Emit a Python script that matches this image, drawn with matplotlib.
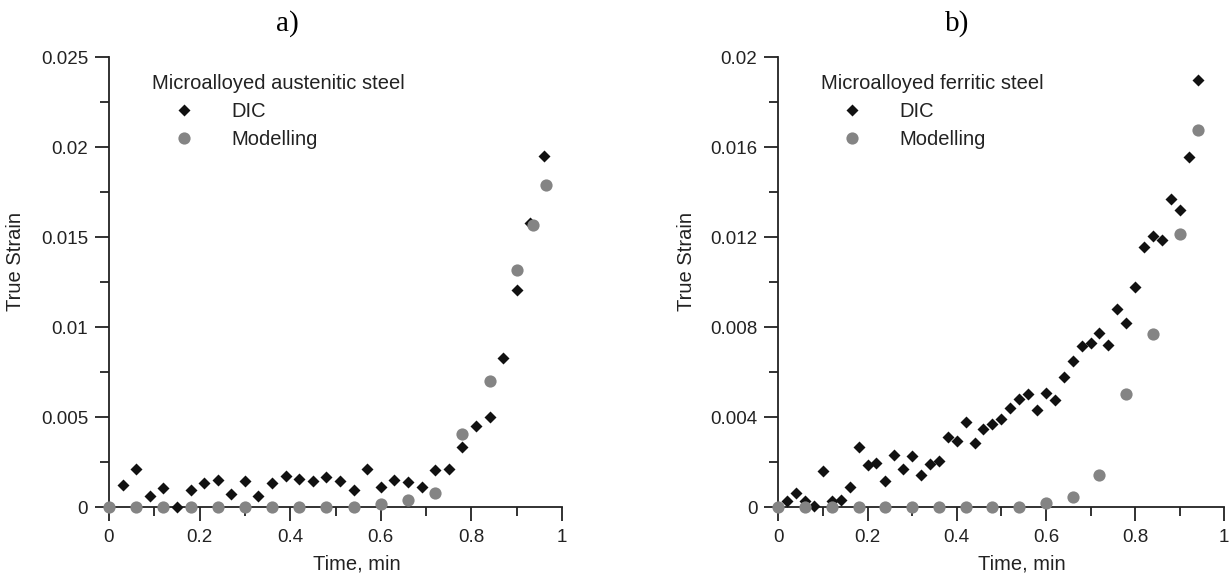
import numpy as np
import matplotlib.pyplot as plt
from matplotlib.ticker import MultipleLocator, FormatStrFormatter

plt.rcParams['font.family'] = ['Liberation Sans', 'DejaVu Sans']

# a) microalloyed austenitic steel
a_dic_t = [0.03, 0.06, 0.09, 0.12, 0.15, 0.18, 0.21, 0.24, 0.27, 0.30, 0.33,
           0.36, 0.39, 0.42, 0.45, 0.48, 0.51, 0.54, 0.57, 0.60, 0.63, 0.66,
           0.69, 0.72, 0.75, 0.78, 0.81, 0.84, 0.87, 0.90, 0.93, 0.96]
a_dic = [0.00124, 0.0021, 0.00059, 0.00105, 0.0, 0.00096, 0.00133, 0.00152,
         0.00072, 0.00146, 0.00059, 0.00133, 0.00174, 0.00157, 0.00142, 0.00165,
         0.00142, 0.00092, 0.0021, 0.00109, 0.00148, 0.00137, 0.00109, 0.00203,
         0.00213, 0.00331, 0.00452, 0.00498, 0.00828, 0.01207, 0.0158, 0.01948]
a_mod_t = [0.0, 0.06, 0.12, 0.18, 0.24, 0.30, 0.36, 0.42, 0.48, 0.54, 0.60,
           0.66, 0.72, 0.78, 0.84, 0.90, 0.935, 0.965]
a_mod = [0.0, 0.0, 0.0, 0.0, 0.0, 0.0, 0.0, 0.0, 0.0, 0.0, 0.00017,
         0.0004, 0.00078, 0.00407, 0.00698, 0.01318, 0.01565, 0.01787]

# b) microalloyed ferritic steel
b_dic_t = [0.02, 0.04, 0.06, 0.08, 0.10, 0.12, 0.14, 0.16, 0.18, 0.20, 0.22,
           0.24, 0.26, 0.28, 0.30, 0.32, 0.34, 0.36, 0.38, 0.40, 0.42, 0.44,
           0.46, 0.48, 0.50, 0.52, 0.54, 0.56, 0.58, 0.60, 0.62, 0.64, 0.66,
           0.68, 0.70, 0.72, 0.74, 0.76, 0.78, 0.80, 0.82, 0.84, 0.86, 0.88,
           0.90, 0.92, 0.94]
b_dic = [0.00025, 0.00062, 0.00028, 0.00003, 0.00158, 0.00025, 0.00032, 0.00089,
         0.00267, 0.00188, 0.00196, 0.00114, 0.00229, 0.0017, 0.00225, 0.00144,
         0.00191, 0.00203, 0.00311, 0.00295, 0.00378, 0.00284, 0.00347, 0.0037,
         0.00391, 0.0044, 0.0048, 0.00502, 0.00432, 0.00507, 0.00474, 0.00576,
         0.0065, 0.00714, 0.00729, 0.00773, 0.00721, 0.0088, 0.0082, 0.0098,
         0.01156, 0.01206, 0.01185, 0.0137, 0.01321, 0.01556, 0.01896]
b_mod_t = [0.0, 0.06, 0.12, 0.18, 0.24, 0.30, 0.36, 0.42, 0.48, 0.54, 0.60,
           0.66, 0.72, 0.78, 0.84, 0.90, 0.94]
b_mod = [0.0, 0.0, 0.0, 0.0, 0.0, 0.0, 0.0, 0.0, 0.0, 0.0, 0.00018,
         0.00044, 0.00144, 0.00504, 0.00769, 0.01215, 0.01677]

fig = plt.figure(figsize=(12.31, 5.76), dpi=100)
ax1 = fig.add_axes([109 / 1231, 69 / 576, 453 / 1231, 450 / 576])
ax2 = fig.add_axes([778.3 / 1231, 69 / 576, 446 / 1231, 450 / 576])

panels = [
    (ax1, a_dic_t, a_dic, a_mod_t, a_mod, 'Microalloyed austenitic steel',
     0.025, 0.005, 'a)', 287),
    (ax2, b_dic_t, b_dic, b_mod_t, b_mod, 'Microalloyed ferritic steel',
     0.02, 0.004, 'b)', 957),
]

for ax, dt, dv, mt, mv, title, ymax, ystep, tag, tagx in panels:
    ax.plot(dt, dv, 'D', color='#111111', ms=6.4, mec='none', label='DIC',
            clip_on=False, zorder=3)
    ax.plot(mt, mv, 'o', color='#848484', ms=8.8, mec='none', label='Modelling',
            clip_on=False, zorder=4)
    ax.set_xlim(0, 1)
    ax.set_ylim(0, ymax)
    ax.xaxis.set_major_locator(MultipleLocator(0.2))
    ax.xaxis.set_minor_locator(MultipleLocator(0.1))
    ax.yaxis.set_major_locator(MultipleLocator(ystep))
    ax.yaxis.set_minor_locator(MultipleLocator(ystep / 2))
    ax.xaxis.set_major_formatter(FormatStrFormatter('%g'))
    ax.yaxis.set_major_formatter(FormatStrFormatter('%g'))
    for s in ['top', 'right']:
        ax.spines[s].set_visible(False)
    for s in ['left', 'bottom']:
        ax.spines[s].set_linewidth(1.3)
        ax.spines[s].set_color('#222222')
    ax.tick_params(which='major', length=10, width=1.3, color='#222222',
                   labelsize=13.5, labelcolor='#222222')
    ax.tick_params(which='minor', length=6.5, width=1.3, color='#222222')
    ax.tick_params(axis='x', pad=6)
    ax.tick_params(axis='y', pad=5)
    ax.set_xlabel('Time, min', fontsize=14.5, color='#222222')
    ax.set_ylabel('True Strain', fontsize=14.5, color='#222222')
    ax.xaxis.set_label_coords(0.547, -0.105)
    ax.yaxis.set_label_coords(-0.185, 0.545)
    leg = ax.legend(title=title, loc='upper left', bbox_to_anchor=(0.078, 0.98),
                    frameon=False, fontsize=14.5, title_fontsize=14.5,
                    alignment='left', handlelength=3.1, handletextpad=0.8,
                    labelspacing=0.45, borderaxespad=0)
    for t in leg.get_texts():
        t.set_color('#222222')
    leg.get_title().set_color('#222222')
    fig.text(tagx / 1231, 1 - 24 / 576, tag, ha='center', va='center',
             fontsize=21, family=['Liberation Serif', 'DejaVu Serif'])

plt.savefig('out.png', dpi=100)
